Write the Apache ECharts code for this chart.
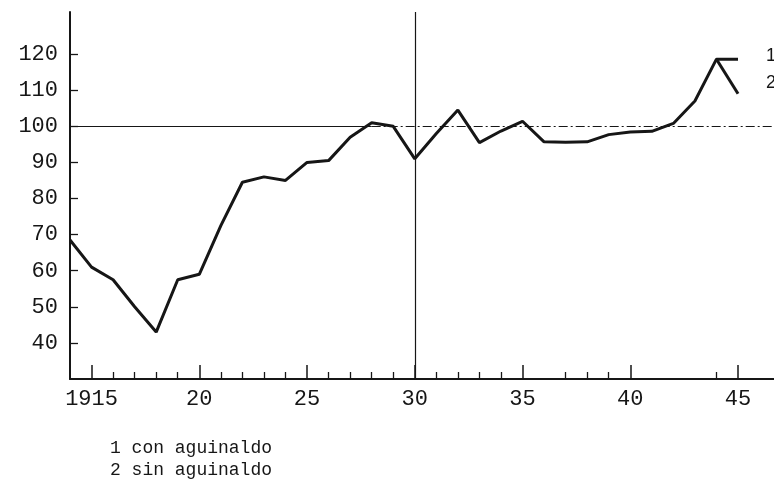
<!DOCTYPE html>
<html><head><meta charset="utf-8">
<script src="https://cdn.jsdelivr.net/npm/echarts@6/dist/echarts.min.js"></script>
<style>html,body{margin:0;padding:0;background:#fff}#c{width:774px;height:481px}</style>
</head><body><div id="c"></div>
<script>
// ---- data ----
const years = [1914,1915,1916,1917,1918,1919,1920,1921,1922,1923,1924,1925,1926,1927,1928,1929,
               1930,1931,1932,1933,1934,1935,1936,1937,1938,1939,1940,1941,1942,1943,1944,1945];
const conAguinaldo = [68.5,61,57.5,50,43,57.5,59,72.5,84.5,86,85,90,90.5,97,101,100,
                      91,98,104.5,95.5,98.7,101.4,95.7,95.6,95.7,97.7,98.4,98.6,100.8,107,118.6,118.6];
const sinAguinaldoYears = [1944,1945];
const sinAguinaldo = [118.6,109];
const yTickValues = [40,50,60,70,80,90,100,110,120];
const xMajorTicks = [1915,1920,1925,1930,1935,1940,1945];
const xMinorTicks = [1916,1917,1918,1919,1921,1922,1923,1924,1926,1927,1928,1929,
                     1931,1932,1933,1934,1937,1938,1939,1944];
const seriesLabels = ['1','2'];
const legendLines = ['1 con aguinaldo','2 sin aguinaldo'];
const refValue = 100;
const refYear = 1930;
const xMin = 1914, xMax = 1946.67;
const yMin = 30, yMax = 131.67;

// ---- build ----
const s1 = years.map((y,i)=>[y, conAguinaldo[i]]);
const s2 = sinAguinaldoYears.map((y,i)=>[y, sinAguinaldo[i]]);
const ink = '#161616';
const monoFont = '"Liberation Mono", "DejaVu Sans Mono", monospace';

const chart = echarts.init(document.getElementById('c'), null, {renderer:'canvas'});
chart.setOption({
  animation: false,
  backgroundColor: '#fff',
  grid: {left: 70, right: 0, top: 12, bottom: 102, containLabel: false},
  xAxis: [{
    type: 'value', min: xMin, max: xMax,
    axisLine: {show: true, onZero: false, lineStyle: {color: ink, width: 2}},
    axisTick: {show: true, inside: true, length: 14, customValues: xMajorTicks, lineStyle: {color: ink, width: 1.5}},
    axisLabel: {show: true, customValues: xMajorTicks, margin: 9, color: ink, fontFamily: monoFont, fontSize: 22,
      formatter: v => v === 1915 ? '1915' : String(v % 100)},
    splitLine: {show: false}
  },{
    type: 'value', min: xMin, max: xMax, position: 'bottom',
    axisLine: {show: false},
    axisTick: {show: true, inside: true, length: 7, customValues: xMinorTicks, lineStyle: {color: ink, width: 1.3}},
    axisLabel: {show: false},
    splitLine: {show: false}
  }],
  yAxis: {
    type: 'value', min: yMin, max: yMax,
    axisLine: {show: true, onZero: false, lineStyle: {color: ink, width: 2}},
    axisTick: {show: true, inside: true, length: 8, customValues: yTickValues, lineStyle: {color: ink, width: 1.3}},
    axisLabel: {show: true, customValues: yTickValues, margin: 12, color: ink, fontFamily: monoFont, fontSize: 22},
    splitLine: {show: false}
  },
  series: [{
    name: legendLines[0], type: 'line', xAxisIndex: 0, data: s1,
    symbol: 'none', lineStyle: {color: ink, width: 3}, z: 5,
    endLabel: {show: true, formatter: seriesLabels[0], distance: 28, offset: [0, -3], color: ink,
      fontFamily: '"Liberation Sans", Arial, sans-serif', fontSize: 18},
    markLine: {
      silent: true, symbol: 'none', label: {show: false}, animation: false,
      data: [
        [{coord: [xMin, refValue], lineStyle: {color: ink, width: 1.2, type: 'solid'}}, {coord: [1928, refValue]}],
        [{coord: [1928, refValue], lineStyle: {color: ink, width: 1.2, type: [9, 3, 2, 3]}}, {coord: [xMax, refValue]}],
        [{coord: [refYear, yMin], lineStyle: {color: ink, width: 1.2, type: 'solid'}}, {coord: [refYear, yMax]}]
      ]
    }
  },{
    name: legendLines[1], type: 'line', xAxisIndex: 0, data: s2,
    symbol: 'none', lineStyle: {color: ink, width: 3}, z: 5,
    endLabel: {show: true, formatter: seriesLabels[1], distance: 28, offset: [0, -11], color: ink,
      fontFamily: '"Liberation Sans", Arial, sans-serif', fontSize: 18}
  }],
  graphic: [
    {type: 'text', left: 110, top: 439, style: {text: legendLines[0], fill: ink, font: '18px "Liberation Mono", monospace'}},
    {type: 'text', left: 110, top: 461, style: {text: legendLines[1], fill: ink, font: '18px "Liberation Mono", monospace'}}
  ]
});
</script>
</body></html>
